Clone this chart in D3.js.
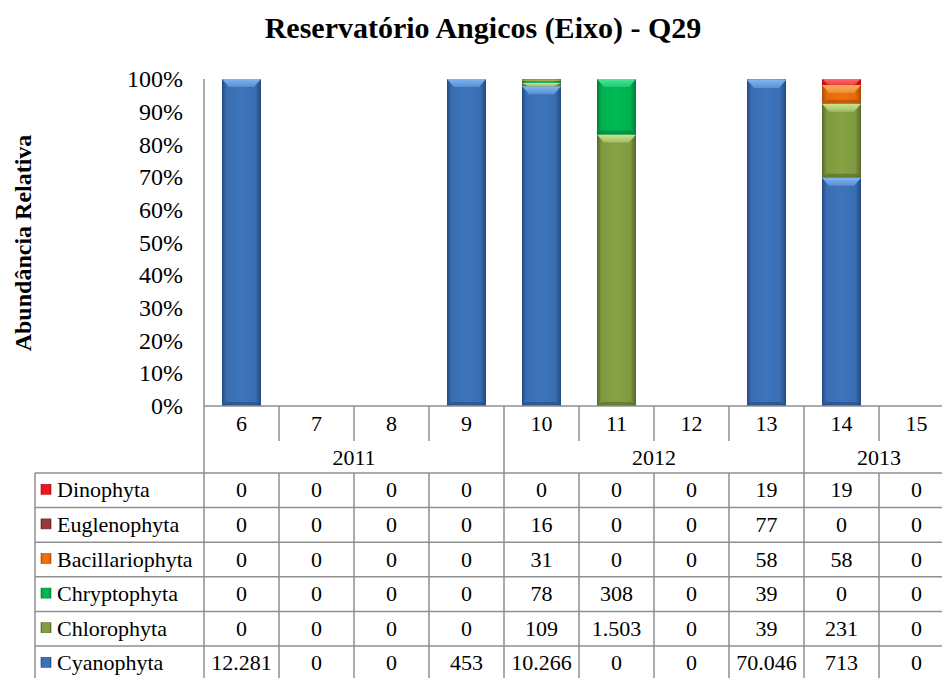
<!DOCTYPE html>
<html>
<head>
<meta charset="utf-8">
<script src="https://cdn.jsdelivr.net/npm/d3@7"></script>
<style>
  html, body { margin: 0; padding: 0; background: #fff; }
  svg { display: block; }
  text { font-family: "Liberation Serif", "Times New Roman", serif; fill: #000; }
</style>
</head>
<body>
<svg id="chart" width="942" height="678"></svg>
<script>
// ---------- data ----------
const categories = ["6", "7", "8", "9", "10", "11", "12", "13", "14", "15"];
const yearLabels = ["2011", "2012", "2013"];
const yearSpans = [4, 4, 2];            // number of categories per year
const yTickValues = [0, 0.1, 0.2, 0.3, 0.4, 0.5, 0.6, 0.7, 0.8, 0.9, 1.0];

const seriesNames = ["Cyanophyta", "Chlorophyta", "Chryptophyta", "Bacillariophyta", "Euglenophyta", "Dinophyta"];
const cyanophyta      = [12281, 0, 0, 453, 10266, 0, 0, 70046, 713, 0];
const chlorophyta     = [0, 0, 0, 0, 109, 1503, 0, 39, 231, 0];
const chryptophyta    = [0, 0, 0, 0, 78, 308, 0, 39, 0, 0];
const bacillariophyta = [0, 0, 0, 0, 31, 0, 0, 58, 58, 0];
const euglenophyta    = [0, 0, 0, 0, 16, 0, 0, 77, 0, 0];
const dinophyta       = [0, 0, 0, 0, 0, 0, 0, 19, 19, 0];
const seriesValues = [cyanophyta, chlorophyta, chryptophyta, bacillariophyta, euglenophyta, dinophyta];

// colours: [edge, base, highlight]
const colors = {
  Cyanophyta:      ["#244a7e", "#3a6eb2", "#80b6f4"],
  Chlorophyta:     ["#55692a", "#7f9a3f", "#cbe38f"],
  Chryptophyta:    ["#007e38", "#00b050", "#4ae89a"],
  Bacillariophyta: ["#a84e06", "#e46c0a", "#fcb060"],
  Euglenophyta:    ["#6a2422", "#953735", "#c56a68"],
  Dinophyta:       ["#b30d12", "#e8161d", "#ff6a6a"]
};

// ---------- build table ----------
const rows = categories.map((c, i) => {
  const r = { cat: c };
  seriesNames.forEach((s, k) => r[s] = seriesValues[k][i]);
  return r;
});

const svg = d3.select("#chart");
const W = 942, H = 678;

const x = d3.scaleBand().domain(categories).range([204, 954]).paddingInner(0.48).paddingOuter(0.24);
const y = d3.scaleLinear().domain([0, 1]).range([406, 79]);
const step = x.step();
const left = 204;

const ptFmt = d3.formatLocale({ decimal: ",", thousands: ".", grouping: [3], currency: ["R$", ""] }).format(",");

// gradients
const defs = svg.append("defs");
seriesNames.forEach(s => {
  const [e, b, h] = colors[s];
  const g = defs.append("linearGradient").attr("id", "g-" + s).attr("x1", 0).attr("x2", 1).attr("y1", 0).attr("y2", 0);
  g.append("stop").attr("offset", 0).attr("stop-color", e);
  g.append("stop").attr("offset", 0.12).attr("stop-color", b);
  g.append("stop").attr("offset", 0.5).attr("stop-color", d3.color(b).brighter(0.15));
  g.append("stop").attr("offset", 0.85).attr("stop-color", b);
  g.append("stop").attr("offset", 1).attr("stop-color", e);
  const v = defs.append("linearGradient").attr("id", "v-" + s).attr("x1", 0).attr("x2", 0).attr("y1", 0).attr("y2", 1);
  v.append("stop").attr("offset", 0).attr("stop-color", h);
  v.append("stop").attr("offset", 1).attr("stop-color", d3.interpolateRgb(h, b)(0.55));
});

// ---------- title ----------
svg.append("text")
  .attr("x", 483).attr("y", 38)
  .attr("text-anchor", "middle")
  .attr("font-size", 30).attr("font-weight", "bold")
  .text("Reservatório Angicos (Eixo) - Q29");

// y axis title
svg.append("text")
  .attr("transform", "translate(31,243) rotate(-90)")
  .attr("text-anchor", "middle")
  .attr("font-size", 24).attr("font-weight", "bold")
  .text("Abundância Relativa");

// ---------- y axis ----------
const yAxis = svg.append("g").attr("transform", `translate(${left},0)`)
  .call(d3.axisLeft(y).tickValues(yTickValues).tickFormat(d3.format(".0%")).tickSize(0).tickPadding(21));
yAxis.select(".domain").remove();
yAxis.selectAll("text").style("font-size", "24px").attr("fill", "#000");

const lineColor = "#8f8f8f";

// ---------- bars ----------
const stack = d3.stack().keys(seriesNames).offset(d3.stackOffsetExpand);
const stacked = stack(rows);

const barG = svg.append("g");
stacked.forEach(layer => {
  const s = layer.key;
  layer.forEach(d => {
    const h = y(d[0]) - y(d[1]);
    if (!(h > 0.01)) return;
    const x0 = x(d.data.cat), bw = x.bandwidth();
    const top = y(d[1]);
    barG.append("rect")
      .attr("x", x0).attr("y", top).attr("width", bw).attr("height", h)
      .attr("fill", `url(#g-${s})`);
    // top bevel highlight
    const bv = Math.min(8, h);
    if (h > 3) {
      barG.append("polygon")
        .attr("points", [[x0, top], [x0 + bw, top], [x0 + bw - 7, top + bv], [x0 + 7, top + bv]].map(p => p.join(",")).join(" "))
        .attr("fill", `url(#v-${s})`);
    }
    // bottom bevel shade
    if (h > 12) {
      const bot = y(d[0]);
      barG.append("polygon")
        .attr("points", [[x0 + 5, bot - 4], [x0 + bw - 5, bot - 4], [x0 + bw, bot], [x0, bot]].map(p => p.join(",")).join(" "))
        .attr("fill", colors[s][0]).attr("opacity", 0.6);
    }
  });
});

// ---------- axes lines / category grid ----------
const lines = svg.append("g").attr("stroke", lineColor).attr("stroke-width", 1.5).attr("fill", "none");
lines.append("line").attr("x1", left).attr("x2", left).attr("y1", y(1)).attr("y2", 473);
lines.append("line").attr("x1", left).attr("x2", W).attr("y1", y(0)).attr("y2", y(0));

let cum = 0;
const yearBoundIdx = new Set();
yearSpans.forEach(n => { cum += n; yearBoundIdx.add(cum); });
categories.forEach((c, i) => {
  if (i === 0) return;
  const bx = x(c) - x.paddingInner() * step / 2;
  const long = yearBoundIdx.has(i);
  lines.append("line").attr("x1", bx).attr("x2", bx).attr("y1", y(0)).attr("y2", long ? 473 : 441);
});

// category labels
svg.append("g").selectAll("text").data(categories).join("text")
  .attr("x", d => x(d) + x.bandwidth() / 2).attr("y", 431)
  .attr("text-anchor", "middle").attr("font-size", 22)
  .text(d => d);

// year labels
let start = 0;
yearLabels.forEach((yl, k) => {
  const first = categories[start], last = categories[start + yearSpans[k] - 1];
  const xa = x(first) - x.paddingInner() * step / 2;
  const xb = x(last) + x.bandwidth() + x.paddingInner() * step / 2;
  svg.append("text").attr("x", (xa + xb) / 2).attr("y", 465)
    .attr("text-anchor", "middle").attr("font-size", 22).text(yl);
  start += yearSpans[k];
});

// ---------- data table ----------
const tableTop = 473, rowH = 34.6, tableLeft = 35;
const tableSeries = seriesNames.slice().reverse();
const tg = svg.append("g");
tableSeries.forEach((s, r) => {
  const yc = tableTop + r * rowH + rowH / 2;
  tg.append("rect").attr("x", 41).attr("y", yc - 6).attr("width", 10).attr("height", 10)
    .attr("fill", `url(#g-${s})`).attr("stroke", colors[s][0]).attr("stroke-width", 0.6);
  tg.append("text").attr("x", 57).attr("y", yc + 7).attr("font-size", 22).text(s);
  const vals = seriesValues[seriesNames.indexOf(s)];
  categories.forEach((c, i) => {
    tg.append("text").attr("x", x(c) + x.bandwidth() / 2).attr("y", yc + 7)
      .attr("text-anchor", "middle").attr("font-size", 22).text(ptFmt(vals[i]));
  });
});
const tl = svg.append("g").attr("stroke", lineColor).attr("stroke-width", 1.5);
for (let r = 0; r <= tableSeries.length; r++) {
  const yy = tableTop + r * rowH;
  tl.append("line").attr("x1", tableLeft).attr("x2", W).attr("y1", yy).attr("y2", yy);
}
const tableBottom = tableTop + tableSeries.length * rowH;
tl.append("line").attr("x1", tableLeft).attr("x2", tableLeft).attr("y1", tableTop).attr("y2", tableBottom);
tl.append("line").attr("x1", left).attr("x2", left).attr("y1", tableTop).attr("y2", tableBottom);
categories.forEach((c, i) => {
  if (i === 0) return;
  const bx = x(c) - x.paddingInner() * step / 2;
  tl.append("line").attr("x1", bx).attr("x2", bx).attr("y1", tableTop).attr("y2", tableBottom);
});
</script>
</body>
</html>
